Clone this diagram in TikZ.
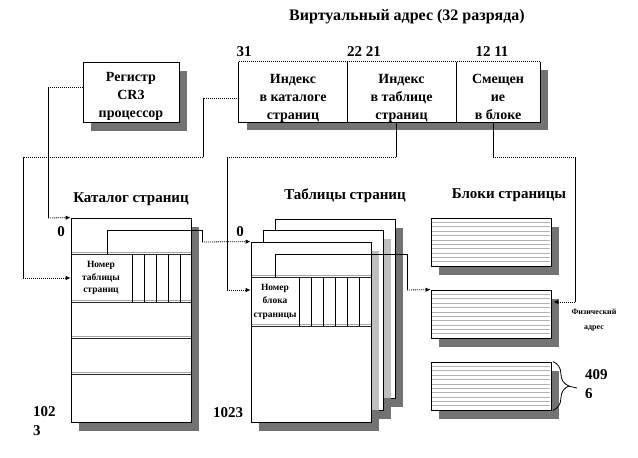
\documentclass[tikz,border=0pt]{standalone}
\usepackage{fontspec}
\setmainfont{Liberation Serif}
\usetikzlibrary{arrows.meta,decorations.pathreplacing}
\begin{document}
\begin{tikzpicture}[x=1pt,y=-1pt,
 big/.style={font=\fontsize{15}{17}\selectfont\bfseries, inner sep=0pt},
 mid/.style={font=\fontsize{14}{16}\selectfont\bfseries, inner sep=0pt, anchor=base},
 small/.style={font=\fontsize{9.5}{11}\selectfont\bfseries, inner sep=0pt},
 tiny/.style={font=\fontsize{8}{15}\selectfont\bfseries, inner sep=0pt, align=center},
 shd/.style={fill=black!55, draw=none},
 lshd/.style={fill=black!25, draw=none},
 frame/.style={draw=black, fill=white, line width=0.8pt, inner sep=0pt},
 blank/.style={draw=none, fill=white, inner sep=0pt},
 sl/.style={line width=0.8pt},
 dl/.style={line width=0.8pt, dash pattern=on 1pt off 1pt},
 arr/.style={-{Latex[length=5pt,width=4.5pt]}},
 sep/.style={line width=0.9pt, black!85},
 sepl/.style={line width=0.8pt, black!35},
 stripe/.style={line width=0.6pt, black!30},
]
\useasboundingbox (0,0) rectangle (638,458);

% ---------- title and bit numbers
\node[big, font=\fontsize{16}{18}\selectfont\bfseries] (title) at (407,17) {Виртуальный адрес (32 разряда)};
\node[big] (b31) at (244,52) {31};
\node[big] (b2221) at (364,52) {22\ 21};
\node[big] (b1211) at (492,52) {12\ 11};

% ---------- CR3 register
\fill[shd] (91,71) rectangle (187,131);
\node[frame, minimum width=96pt, minimum height=60pt] (cr3) at (131,92) {};
\node[mid] (cr3t1) at (131,81) {Регистр};
\node[mid] (cr3t2) at (131,99) {CR3};
\node[mid] (cr3t3) at (131,117) {процессор};

% ---------- virtual address
\fill[shd] (247,70) rectangle (548,130);
\node[blank, minimum width=108pt, minimum height=60pt] (c1) at (293,92) {};
\node[blank, minimum width=109pt, minimum height=60pt] (c2) at (401.5,92) {};
\node[blank, minimum width=84pt, minimum height=60pt] (c3) at (498,92) {};
\draw[sl] (c1.north west) -- (c1.south west) -- (c3.south east) -- (c3.north east);
\draw[sl] (c1.north east) -- (c1.south east);
\draw[sl] (c2.north east) -- (c2.south east);
\draw[dl] (c1.north west) -- (c3.north east);
\node[mid] (c1t1) at (293,83) {Индекс};
\node[mid] (c1t2) at (293,101) {в каталоге};
\node[mid] (c1t3) at (293,119) {страниц};
\node[mid] (c2t1) at (401.5,83) {Индекс};
\node[mid] (c2t2) at (401.5,101) {в таблице};
\node[mid] (c2t3) at (401.5,119) {страниц};
\node[mid] (c3t1) at (498,83) {Смещен};
\node[mid] (c3t2) at (498,101) {ие};
\node[mid] (c3t3) at (498,119) {в блоке};

% ---------- page directory
\node[big] (cattitle) at (131,199) {Каталог страниц};
\fill[shd] (79,227) rectangle (199,431);
\node[frame, minimum width=120pt, minimum height=204pt] (cat) at (131,320) {};
\foreach \yy in {254,302,338,374}{
  \draw[sepl] (71.5,\yy-1.4) -- (190.5,\yy-1.4);
  \draw[sep] (71,\yy) -- (191,\yy);
}
\foreach \xx in {132,144,156,168,180}{\draw[sl] (\xx,254) -- (\xx,302);}
\node[small, align=center, font=\fontsize{9.5}{12.5}\selectfont\bfseries] (catentry) at (101,278) {Номер\\таблицы\\страниц};
\node[big] (cat0) at (61,232) {0};
\node[big, anchor=west] (cat102) at (33,412) {102};
\node[big, anchor=west] (cat3) at (33,431) {3};

% ---------- page tables
\node[big] (tabtitle) at (345,196) {Таблицы страниц};
\fill[shd] (283,228) rectangle (403,407);
\node[frame, minimum width=120pt, minimum height=179pt] (bp) at (335,308.5) {};
\fill[shd] (271,239) rectangle (391,419);
\fill[lshd] (275,239) rectangle (391,398);
\node[frame, minimum width=120pt, minimum height=180pt] (mp) at (323,320) {};
\fill[shd] (259,251) rectangle (379,431);
\fill[lshd] (263,251) rectangle (379,410);
\node[frame, minimum width=120pt, minimum height=180pt] (fp) at (311,332) {};
\foreach \yy in {277,326}{
  \draw[sepl] (251.5,\yy-1.4) -- (370.5,\yy-1.4);
  \draw[sep] (251,\yy) -- (371,\yy);
}
\foreach \xx in {299,311,323,335,347,359}{\draw[sl] (\xx,277) -- (\xx,326);}
\node[small, align=center, font=\fontsize{9.5}{13.5}\selectfont\bfseries] (tabentry) at (275,301.5) {Номер\\блока\\страницы};
\node[big] (tab0) at (240,232) {0};
\node[big] (tab1023) at (228,413) {1023};

% ---------- page blocks
\node[big] (blktitle) at (509,195) {Блоки страницы};
\foreach \t in {218,290,362}{\fill[shd] (439,\t+9) rectangle (559,\t+57);}
\node[frame, minimum width=120pt, minimum height=48pt] (bk1) at (491,242) {};
\node[frame, minimum width=120pt, minimum height=48pt] (bk2) at (491,314) {};
\node[frame, minimum width=120pt, minimum height=48pt] (bk3) at (491,386) {};
\foreach \t in {218,290,362}{
  \foreach \k in {1,...,10}{\draw[stripe] (431.6,\t+4.36*\k) -- (550.4,\t+4.36*\k);}
}
\draw[sl, decorate, decoration={brace, amplitude=16pt}] ([xshift=1.5pt]bk3.north east) -- ([xshift=1.5pt]bk3.south east);
\coordinate (brtip) at (568,386);
\coordinate (brend) at (577,388);
\draw[sl] (brtip) -- (brend);
\node[big, anchor=west] (n409) at (585,375) {409};
\node[big, anchor=west] (n6) at (585,394) {6};
\node[tiny] (phys) at (594,320) {Физический\\адрес};

% ---------- connectors
% CR3 -> directory
\coordinate (a1) at (48,87);
\coordinate (a2) at (48,218);
\draw[dl] ([yshift=5pt]cr3.west) -- (a1);
\draw[sl] (a1) -- (a2);
\draw[dl, arr] (a2) -- (cat.north west);

% directory index -> directory entry
\coordinate (k1) at (203,98);
\coordinate (k2) at (203,157);
\coordinate (k3) at (23,157);
\coordinate (k4) at (23,278);
\draw[dl] ([yshift=-6pt]c1.west) -- (k1);
\draw[sl] (k1) -- (k2);
\draw[dl] (k2) -- (k3);
\draw[sl] (k3) -- (k4);
\draw[dl, arr] (k4) -- (cat.west |- k4);

% table index -> table entry
\coordinate (m1) at (396,157);
\coordinate (m2) at (227,157);
\coordinate (m3) at (227,290);
\draw[sl] (c2.south -| m1) -- (m1);
\draw[dl] (m1) -- (m2);
\draw[sl] (m2) -- (m3);
\draw[dl, arr] (m3) -- (fp.west |- m3);

% offset -> physical address
\coordinate (n1) at (493,157);
\coordinate (n2) at (575,157);
\coordinate (n3) at (575,302);
\draw[sl] (c3.south -| n1) -- (n1);
\draw[dl] (n1) -- (n2);
\draw[sl] (n2) -- (n3);
\draw[dl, arr] (n3) -- ([xshift=2pt]bk2.east |- n3);

% directory entry -> page table
\coordinate (q0) at (107,254);
\coordinate (q1) at (107,230);
\coordinate (q2) at (202,230);
\coordinate (q3) at (202,242);
\draw[sl] (q0) -- (q1) -- (q2) -- (q3);
\draw[dl, arr] (q3) -- (fp.north west);

% table entry -> page block
\coordinate (r0) at (275,277);
\coordinate (r1) at (275,254);
\coordinate (r2) at (407,254);
\coordinate (r3) at (407,290);
\draw[sl] (r0) -- (r1) -- (r2) -- (r3);
\draw[dl, arr] (r3) -- (bk2.north west);
\end{tikzpicture}
\end{document}
